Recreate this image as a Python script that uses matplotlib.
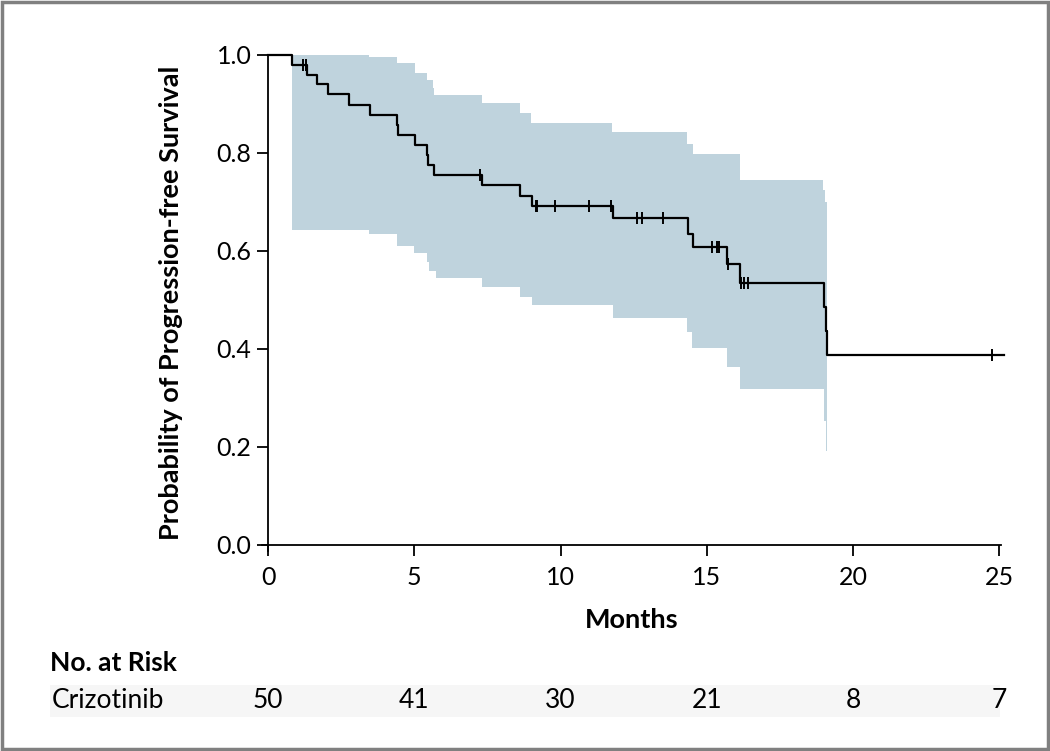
import numpy as np
import matplotlib
matplotlib.use("Agg")
import matplotlib.pyplot as plt
from matplotlib.patches import Rectangle
from matplotlib.transforms import blended_transform_factory

plt.rcParams['font.family'] = ['Lato', 'DejaVu Sans']

# Kaplan-Meier step curve (months, survival after the drop)
km_times = [0.0, 0.83, 1.32, 1.66, 2.06, 2.78, 3.49, 4.40, 4.46, 5.03, 5.43, 5.48, 5.69,
            7.31, 8.62, 9.02, 11.79, 14.35, 14.52, 15.68, 16.14, 19.02, 19.07, 19.12, 25.16]
km_surv = [1.0, 0.98, 0.96, 0.94, 0.92, 0.898, 0.878, 0.857, 0.837, 0.816, 0.796, 0.776, 0.755,
           0.734, 0.713, 0.691, 0.667, 0.635, 0.608, 0.574, 0.534, 0.485, 0.436, 0.388, 0.388]

# censored observations
cens_times = [1.21, 1.29, 7.25, 9.15, 9.21, 9.82, 10.98, 11.73, 12.61, 12.79, 13.51,
              15.17, 15.35, 15.42, 15.74, 16.17, 16.27, 16.42, 24.74]
cens_surv = [0.98, 0.98, 0.755, 0.691, 0.691, 0.691, 0.691, 0.691, 0.667, 0.667, 0.667,
             0.608, 0.608, 0.608, 0.574, 0.534, 0.534, 0.534, 0.388]

# 95% confidence band (step edges)
ci_up_times = [0.83, 3.46, 4.40, 5.03, 5.43, 5.65, 5.69, 7.31, 8.62, 8.99, 11.77,
               14.31, 14.52, 16.14, 18.98, 19.04, 19.10]
ci_upper = [1.0, 0.996, 0.984, 0.964, 0.949, 0.933, 0.918, 0.901, 0.881, 0.862, 0.842,
            0.819, 0.797, 0.745, 0.724, 0.70, 0.70]
ci_lo_times = [0.83, 3.46, 4.40, 4.99, 5.43, 5.49, 5.73, 7.31, 8.62, 9.01, 11.79,
               14.31, 14.51, 15.68, 16.14, 19.02, 19.06, 19.10]
ci_lower = [0.643, 0.634, 0.610, 0.596, 0.577, 0.560, 0.545, 0.526, 0.507, 0.489, 0.463,
            0.434, 0.403, 0.364, 0.318, 0.254, 0.192, 0.192]

risk_times = [0, 5, 10, 15, 20, 25]
risk_counts = [50, 41, 30, 21, 8, 7]
risk_group = "Crizotinib"

fig = plt.figure(figsize=(10.5, 7.51), dpi=100)
ax = fig.add_axes([0.2497, 0.2665, 0.7034, 0.6603])
ax.patch.set_alpha(0)

# band: put both edges on one time grid
grid = np.unique(np.concatenate([ci_up_times, ci_lo_times]))
idx_u = np.searchsorted(ci_up_times, grid, side='right') - 1
idx_l = np.searchsorted(ci_lo_times, grid, side='right') - 1
up = np.array(ci_upper)[idx_u]
lo = np.array(ci_lower)[idx_l]
ax.fill_between(grid, lo, up, step='post', color='#bfd3dd', linewidth=0, zorder=1)

ax.step(km_times, km_surv, where='post', color='black', lw=1.6, zorder=3, clip_on=False)
ax.plot(cens_times, cens_surv, ls='none', marker='|', ms=8, mew=1.4, color='black', zorder=4)

ax.set_xlim(-0.2, 25.05)
ax.set_ylim(-0.012, 1.0)
ax.spines['left'].set_position(('data', 0))
ax.spines['bottom'].set_position(('data', 0))
for s in ['top', 'right']:
    ax.spines[s].set_visible(False)
for s in ['left', 'bottom']:
    ax.spines[s].set_linewidth(1.3)

ax.set_xticks(risk_times)
ax.set_yticks([0.0, 0.2, 0.4, 0.6, 0.8, 1.0])
ax.set_yticklabels(['0.0', '0.2', '0.4', '0.6', '0.8', '1.0'])
ax.tick_params(axis='both', direction='out', length=8, width=1.3, labelsize=18)
ax.tick_params(axis='x', pad=7)
ax.tick_params(axis='y', pad=4)

ax.set_xlabel('Months', fontsize=19.5, fontweight='bold', labelpad=14)
ax.set_ylabel('Probability of Progression-free Survival', fontsize=19.5, fontweight='bold', labelpad=24)

# number at risk table
fig.text(50 / 1050, 1 - 663 / 751, 'No. at Risk', fontsize=19, fontweight='bold', va='center', ha='left')
fig.patches.append(Rectangle((50 / 1050, 1 - 717 / 751), 950 / 1050, 32 / 751,
                             transform=fig.transFigure, facecolor='#f6f6f6', edgecolor='none', zorder=-1))
fig.text(52 / 1050, 1 - 701 / 751, risk_group, fontsize=19, va='center', ha='left')
trans = blended_transform_factory(ax.transData, fig.transFigure)
for t, n in zip(risk_times, risk_counts):
    ax.text(t, 1 - 701 / 751, str(n), transform=trans, fontsize=19, ha='center', va='center',
            clip_on=False, zorder=6)

# outer frame
fig.patches.append(Rectangle((0.0015, 0.002), 0.997, 0.996, transform=fig.transFigure,
                             facecolor='none', edgecolor='#808080', linewidth=2.5, zorder=5))

fig.savefig('out.png', dpi=100)
